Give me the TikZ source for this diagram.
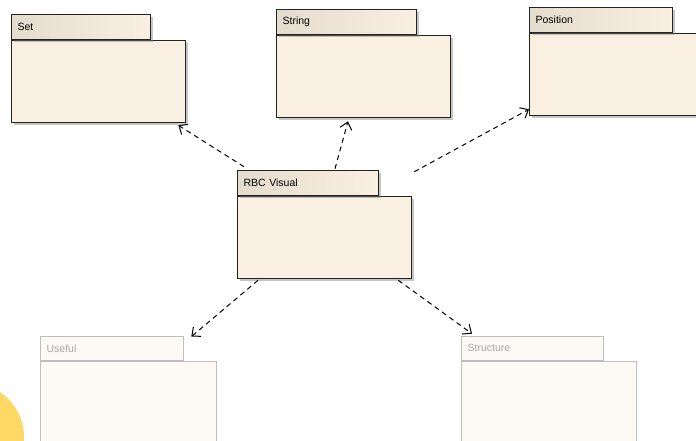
\documentclass[tikz,border=0pt]{standalone}
\usepackage{fontspec}
\setsansfont{Liberation Sans}
\usepackage{tikz}
\usetikzlibrary{shadows}
\usetikzlibrary{positioning}
\usetikzlibrary{arrows.meta}

\definecolor{pkgfill}{RGB}{250,240,225}
\definecolor{tabdark}{RGB}{228,220,204}
\definecolor{pkgline}{RGB}{35,35,35}
\definecolor{fadefill}{RGB}{253,250,245}
\definecolor{fadeline}{RGB}{190,190,190}
\definecolor{sunny}{RGB}{255,216,102}

\tikzset{
  pkgbody/.style={draw=pkgline, line width=1.3pt, fill=pkgfill, inner sep=0pt,
    anchor=north west, minimum height=82pt, minimum width=#1,
    drop shadow={shadow xshift=2.5pt, shadow yshift=-2.5pt, opacity=.45}},
  pkgtab/.style={draw=pkgline, line width=1.3pt, left color=tabdark, right color=pkgfill,
    inner xsep=6pt, inner ysep=0pt, minimum height=25pt, text width=#1, align=left,
    font=\sffamily\fontsize{10.5}{12}\selectfont,
    drop shadow={shadow xshift=2.5pt, shadow yshift=-2.5pt, opacity=.45}},
  fadebody/.style={draw=fadeline, line width=1.3pt, fill=fadefill, inner sep=0pt,
    anchor=north west, minimum height=82pt, minimum width=#1},
  fadetab/.style={draw=fadeline, line width=1.3pt, fill=fadefill, text=gray!70,
    inner xsep=6pt, inner ysep=0pt, minimum height=24pt, text width=#1, align=left,
    font=\sffamily\fontsize{10.5}{12}\selectfont},
  uses/.style={dashed, dash pattern=on 5pt off 4pt, line width=1pt,
    -{Straight Barb[length=7pt, width=12pt]}}
}

\begin{document}
\begin{tikzpicture}[x=1pt, y=-1pt]
  \useasboundingbox (0,0) rectangle (696,441);
  \fill[sunny] (-30,437) circle (54pt);

  % packages
  \node[pkgbody=174pt] (set) at (11,40) {};
  \node[pkgtab=127pt, above right=0pt of set.north west] (settab) {Set};
  \node[pkgbody=174pt] (string) at (276,35) {};
  \node[pkgtab=128pt, above right=0pt of string.north west] (stringtab) {String};
  \node[pkgbody=175pt] (position) at (529,33) {};
  \node[pkgtab=131pt, above right=0pt of position.north west] (positiontab) {Position};
  \node[pkgbody=174pt] (rbc) at (237,196) {};
  \node[pkgtab=129pt, above right=0pt of rbc.north west] (rbctab) {RBC Visual};
  \node[fadebody=176pt] (useful) at (40,361) {};
  \node[fadetab=131pt, above right=0pt of useful.north west] (usefultab) {Useful};
  \node[fadebody=175pt] (structure) at (461,361) {};
  \node[fadetab=130pt, above right=0pt of structure.north west] (structuretab) {Structure};

  % dependencies
  \draw[uses] ([xshift=7pt, yshift=3pt]rbctab.north west) -- ([xshift=-8pt, yshift=-2pt]set.south east);
  \draw[uses] ([xshift=98pt, yshift=1pt]rbctab.north west) -- ([xshift=72pt, yshift=-3pt]string.south west);
  \draw[uses] ([xshift=35pt, yshift=-2pt]rbctab.north east) -- ([yshift=7pt]position.south west);
  \draw[uses] ([xshift=21pt, yshift=-1pt]rbc.south west) -- ([xshift=7pt, yshift=-1pt]usefultab.north east);
  \draw[uses] ([xshift=-14pt, yshift=-1pt]rbc.south east) -- ([xshift=11pt, yshift=2pt]structuretab.north west);
\end{tikzpicture}
\end{document}
